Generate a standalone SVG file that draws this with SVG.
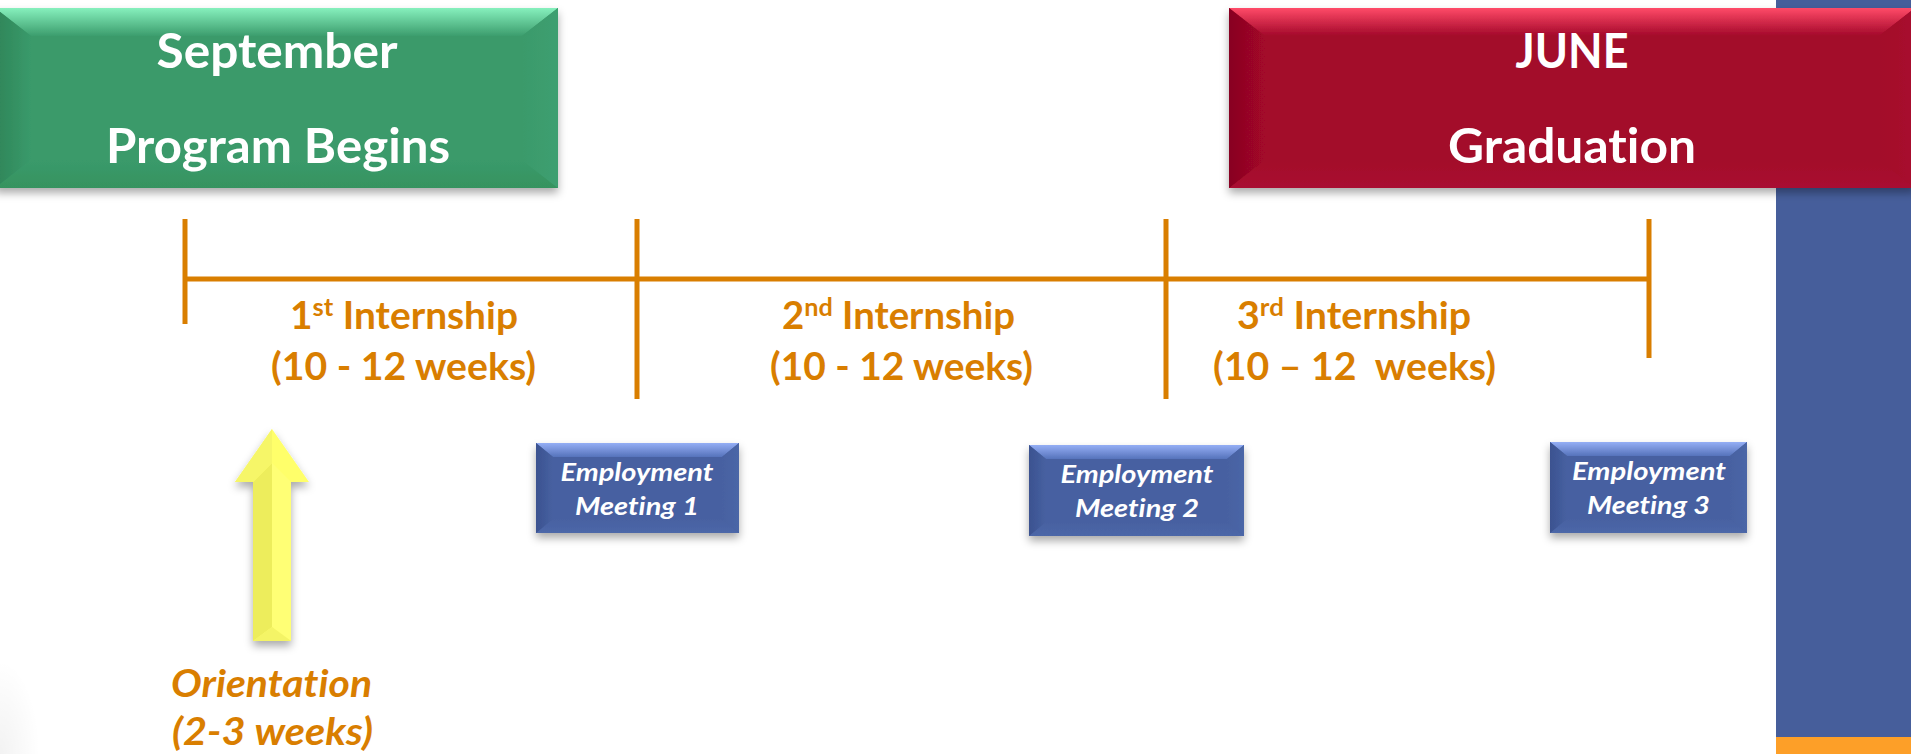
<svg xmlns="http://www.w3.org/2000/svg" width="1911" height="754" viewBox="0 0 1911 754">
<defs>
<style>
text{font-variant-ligatures:none;font-feature-settings:"liga" 0,"clig" 0}
.hdr{font-family:Lato,'Open Sans','Liberation Sans',sans-serif;font-weight:700;font-size:48px;fill:#ffffff;text-anchor:middle}
.lbl{font-family:Lato,'Open Sans','Liberation Sans',sans-serif;font-weight:700;font-size:38px;fill:#d97e00;text-anchor:middle}
.ori{font-family:Lato,'Open Sans','Liberation Sans',sans-serif;font-weight:700;font-style:italic;font-size:38px;fill:#d97e00;text-anchor:middle}
.emp{font-family:Lato,'Open Sans','Liberation Sans',sans-serif;font-weight:700;font-style:italic;font-size:24.5px;fill:#ffffff;text-anchor:middle}
.tl{stroke:#d97e00;stroke-width:5;fill:none;stroke-linecap:butt}
</style>
<filter id="sh" x="-10%" y="-20%" width="120%" height="150%">
<feDropShadow dx="0" dy="5" stdDeviation="4" flood-color="#000" flood-opacity="0.33"/>
</filter>
<linearGradient id="gTop" x1="0" y1="0" x2="0" y2="1"><stop offset="0" stop-color="#86f0bd"/><stop offset="1" stop-color="#3c9d6d"/></linearGradient>
<linearGradient id="gBot" x1="0" y1="0" x2="0" y2="1"><stop offset="0" stop-color="#3a9a6b"/><stop offset="1" stop-color="#36935f"/></linearGradient>
<linearGradient id="gL" x1="0" y1="0" x2="1" y2="0"><stop offset="0" stop-color="#2e8558"/><stop offset="1" stop-color="#3a9a6b"/></linearGradient>
<linearGradient id="gR" x1="0" y1="0" x2="1" y2="0"><stop offset="0" stop-color="#3a9a6b"/><stop offset="1" stop-color="#3e9f70"/></linearGradient>
<linearGradient id="rTop" x1="0" y1="0" x2="0" y2="1"><stop offset="0" stop-color="#ff4a68"/><stop offset="1" stop-color="#a3082a"/></linearGradient>
<linearGradient id="rBot" x1="0" y1="0" x2="0" y2="1"><stop offset="0" stop-color="#a3072a"/><stop offset="1" stop-color="#a90d31"/></linearGradient>
<linearGradient id="rL" x1="0" y1="0" x2="1" y2="0"><stop offset="0" stop-color="#880520"/><stop offset="1" stop-color="#a3072a"/></linearGradient>
<linearGradient id="rR" x1="0" y1="0" x2="1" y2="0"><stop offset="0" stop-color="#a3072a"/><stop offset="1" stop-color="#a80b2e"/></linearGradient>
<linearGradient id="bTop" x1="0" y1="0" x2="0" y2="1"><stop offset="0" stop-color="#94aef5"/><stop offset="1" stop-color="#5673bb"/></linearGradient>
<linearGradient id="bBot" x1="0" y1="0" x2="0" y2="1"><stop offset="0" stop-color="#4761a1"/><stop offset="1" stop-color="#4d67a8"/></linearGradient>
<linearGradient id="bL" x1="0" y1="0" x2="1" y2="0"><stop offset="0" stop-color="#3b5290"/><stop offset="1" stop-color="#4761a1"/></linearGradient>
<linearGradient id="bR" x1="0" y1="0" x2="1" y2="0"><stop offset="0" stop-color="#4761a1"/><stop offset="1" stop-color="#4b66a7"/></linearGradient>
<radialGradient id="vig" cx="0" cy="1" r="1"><stop offset="0" stop-color="#000" stop-opacity="0.05"/><stop offset="1" stop-color="#000" stop-opacity="0"/></radialGradient>
</defs>

<rect x="0" y="0" width="1911" height="754" fill="#ffffff"/>
<rect x="0" y="660" width="40" height="94" fill="url(#vig)"/>

<g id="side-bar">
<rect x="1776" y="0" width="135" height="737" fill="#465e9b"/>
<rect x="1776" y="737" width="135" height="17" fill="#fd9f28"/>
</g>

<g id="connectors">
<line class="tl" x1="185" y1="279" x2="1649" y2="279"/>
<line class="tl" x1="185" y1="219" x2="185" y2="324"/>
<line class="tl" x1="637" y1="219" x2="637" y2="399"/>
<line class="tl" x1="1166" y1="219" x2="1166" y2="399"/>
<line class="tl" x1="1649" y1="219" x2="1649" y2="358"/>
</g>

<g id="september">
<g filter="url(#sh)">
<rect x="-5" y="8" width="563" height="180" fill="#3a9a6b"/>
<polygon points="-5,8 558,8 522,36 31,36" fill="url(#gTop)"/>
<polygon points="-5,188 558,188 522,160 31,160" fill="url(#gBot)"/>
<polygon points="-5,8 31,36 31,160 -5,188" fill="url(#gL)"/>
<polygon points="558,8 522,36 522,160 558,188" fill="url(#gR)"/>
</g>
<text class="hdr" x="277" y="68" textLength="241" lengthAdjust="spacingAndGlyphs">September</text>
<text class="hdr" x="278" y="163" textLength="344" lengthAdjust="spacingAndGlyphs">Program Begins</text>
</g>

<g id="june">
<g filter="url(#sh)">
<rect x="1229" y="8" width="686" height="180" fill="#a3072a"/>
<polygon points="1229,8 1915,8 1879,36 1265,36" fill="url(#rTop)"/>
<polygon points="1229,188 1915,188 1879,160 1265,160" fill="url(#rBot)"/>
<polygon points="1229,8 1265,36 1265,160 1229,188" fill="url(#rL)"/>
<polygon points="1915,8 1879,36 1879,160 1915,188" fill="url(#rR)"/>
</g>
<text class="hdr" x="1572" y="68" textLength="113" lengthAdjust="spacingAndGlyphs">JUNE</text>
<text class="hdr" x="1572" y="163" textLength="248" lengthAdjust="spacingAndGlyphs">Graduation</text>
</g>

<g id="internship-1">
<text class="lbl" x="404" y="329" textLength="228" lengthAdjust="spacingAndGlyphs">1<tspan dy="-13" font-size="25">st</tspan><tspan dy="13"> Internship</tspan></text>
<text class="lbl" x="403.5" y="380" textLength="265" lengthAdjust="spacingAndGlyphs">(10 - 12 weeks)</text>
</g>

<g id="internship-2">
<text class="lbl" x="898.5" y="329" textLength="233" lengthAdjust="spacingAndGlyphs">2<tspan dy="-13" font-size="25">nd</tspan><tspan dy="13"> Internship</tspan></text>
<text class="lbl" x="901.5" y="380" textLength="263" lengthAdjust="spacingAndGlyphs">(10 - 12 weeks)</text>
</g>

<g id="internship-3">
<text class="lbl" x="1354" y="329" textLength="234" lengthAdjust="spacingAndGlyphs">3<tspan dy="-13" font-size="25">rd</tspan><tspan dy="13"> Internship</tspan></text>
<text class="lbl" x="1354.5" y="380" textLength="283" lengthAdjust="spacingAndGlyphs" xml:space="preserve">(10 – 12  weeks)</text>
</g>

<g id="meeting-1">
<g filter="url(#sh)">
<rect x="536" y="443" width="203" height="90" fill="#4761a1"/>
<polygon points="536,443 739,443 722,457 553,457" fill="url(#bTop)"/>
<polygon points="536,533 739,533 722,519 553,519" fill="url(#bBot)"/>
<polygon points="536,443 553,457 553,519 536,533" fill="url(#bL)"/>
<polygon points="739,443 722,457 722,519 739,533" fill="url(#bR)"/>
</g>
<text class="emp" x="637" y="481" textLength="153" lengthAdjust="spacingAndGlyphs">Employment</text>
<text class="emp" x="637" y="515" textLength="124" lengthAdjust="spacingAndGlyphs">Meeting 1</text>
</g>

<g id="meeting-2">
<g filter="url(#sh)">
<rect x="1029" y="445" width="215" height="91" fill="#4761a1"/>
<polygon points="1029,445 1244,445 1227,459 1046,459" fill="url(#bTop)"/>
<polygon points="1029,536 1244,536 1227,522 1046,522" fill="url(#bBot)"/>
<polygon points="1029,445 1046,459 1046,522 1029,536" fill="url(#bL)"/>
<polygon points="1244,445 1227,459 1227,522 1244,536" fill="url(#bR)"/>
</g>
<text class="emp" x="1137" y="483" textLength="153" lengthAdjust="spacingAndGlyphs">Employment</text>
<text class="emp" x="1137" y="517" textLength="124" lengthAdjust="spacingAndGlyphs">Meeting 2</text>
</g>

<g id="meeting-3">
<g filter="url(#sh)">
<rect x="1550" y="442" width="197" height="91" fill="#4761a1"/>
<polygon points="1550,442 1747,442 1730,456 1567,456" fill="url(#bTop)"/>
<polygon points="1550,533 1747,533 1730,519 1567,519" fill="url(#bBot)"/>
<polygon points="1550,442 1567,456 1567,519 1550,533" fill="url(#bL)"/>
<polygon points="1747,442 1730,456 1730,519 1747,533" fill="url(#bR)"/>
</g>
<text class="emp" x="1649" y="480" textLength="154" lengthAdjust="spacingAndGlyphs">Employment</text>
<text class="emp" x="1648.5" y="514" textLength="123" lengthAdjust="spacingAndGlyphs">Meeting 3</text>
</g>

<g id="orientation">
<g filter="url(#sh)">
<polygon points="272,429 309,482 291,482 291,641 253,641 253,482 235,482" fill="#ffff6a"/>
<polygon points="253,482 272,463 272,627 253,641" fill="#eded5c"/>
<polygon points="272,463 291,482 291,641 272,627" fill="#ffff74"/>
<polygon points="253,641 272,627 291,641" fill="#f4f466"/>
<polygon points="272,429 272,463 253,482 235,482" fill="#f6f668"/>
</g>
<text class="ori" x="271.5" y="697" textLength="201" lengthAdjust="spacingAndGlyphs">Orientation</text>
<text class="ori" x="272.5" y="745" textLength="201" lengthAdjust="spacingAndGlyphs">(2-3 weeks)</text>
</g>
</svg>
